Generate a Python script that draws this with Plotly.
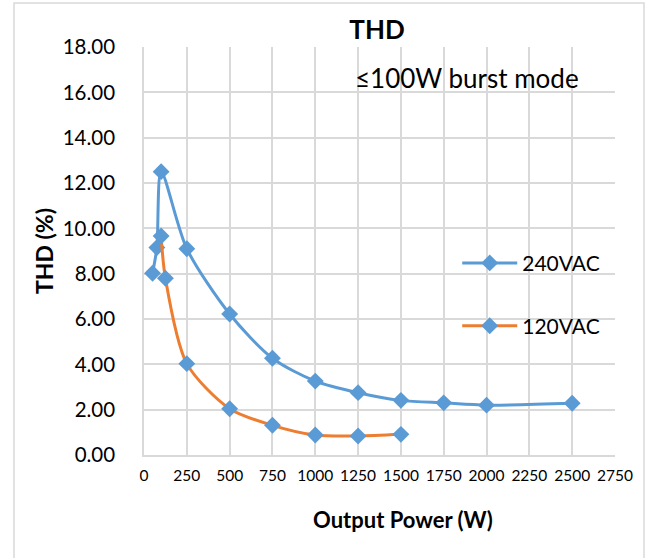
import plotly.graph_objects as go

# Output power (W) and THD (%) for each input voltage
power_240 = [50, 75, 100, 250, 500, 750, 1000, 1250, 1500, 1750, 2000, 2500]
thd_240 = [8.02, 9.15, 12.50, 9.10, 6.22, 4.27, 3.26, 2.75, 2.41, 2.30, 2.20, 2.28]

power_120 = [100, 125, 250, 500, 750, 1000, 1250, 1500]
thd_120 = [9.66, 7.80, 4.03, 2.04, 1.31, 0.88, 0.84, 0.91]

x_ticks = list(range(0, 2751, 250))
y_ticks = list(range(0, 19, 2))

BLUE = "#5B9BD5"
ORANGE = "#ED7D31"
GRID = "#D9D9D9"
FONT = "Lato, Carlito, Calibri, sans-serif"

fig = go.Figure()
fig.add_trace(go.Scatter(
    x=power_240, y=thd_240, name="240VAC", mode="lines+markers",
    line=dict(color=BLUE, width=3, shape="spline", smoothing=0.8),
    marker=dict(symbol="diamond", size=13, color=BLUE),
    legend="legend",
))
fig.add_trace(go.Scatter(
    x=power_120, y=thd_120, name="120VAC", mode="lines+markers",
    line=dict(color=ORANGE, width=3, shape="spline", smoothing=0.8),
    marker=dict(symbol="diamond", size=13, color=BLUE),
    legend="legend2",
))

legend_style = dict(
    font=dict(family=FONT, size=21, color="#000000"),
    bgcolor="rgba(0,0,0,0)", xanchor="left", yanchor="middle",
    itemwidth=55, visible=True,
)

fig.update_layout(
    width=655, height=558,
    margin=dict(l=144, r=40, t=47, b=103),
    paper_bgcolor="white", plot_bgcolor="white",
    font=dict(family=FONT, color="#000000"),
    showlegend=True,
    title=dict(text="<b>THD</b>", x=0.5756, xanchor="center", y=0.946,
               yanchor="middle", font=dict(family=FONT, size=26)),
    xaxis=dict(
        range=[0, 2750], tickvals=x_ticks, ticktext=[str(v) for v in x_ticks],
        showgrid=True, gridcolor=GRID, gridwidth=1.5,
        showline=True, linecolor=GRID, linewidth=1.5,
        zeroline=False, ticks="", ticklabelstandoff=6,
        tickfont=dict(family=FONT, size=15.5),
    ),
    yaxis=dict(
        range=[0, 18], tickvals=y_ticks, ticktext=[f"{v:.2f}" for v in y_ticks],
        showgrid=True, gridcolor=GRID, gridwidth=1.5,
        showline=True, linecolor=GRID, linewidth=1.5,
        zeroline=False, ticks="", ticklabelstandoff=23,
        tickfont=dict(family=FONT, size=20.5),
        title=dict(text="<b>THD (%)</b>", font=dict(family=FONT, size=23),
                   standoff=3),
    ),
    legend=dict(x=0.665, y=0.47, **legend_style),
    legend2=dict(x=0.665, y=0.316, **legend_style),
    annotations=[
        dict(
            text="≤100W burst mode", xref="paper", yref="paper",
            x=0.444, y=0.924, xanchor="left", yanchor="middle", showarrow=False,
            font=dict(family=FONT, size=26, color="#000000"),
        ),
        # x-axis title, placed as an annotation so it can sit off-centre
        dict(
            text="<b>Output Power (W)</b>", xref="paper", yref="paper",
            x=0.55, y=-0.157, xanchor="center", yanchor="middle", showarrow=False,
            font=dict(family=FONT, size=22, color="#000000"),
        ),
    ],
    shapes=[dict(
        type="rect", xref="paper", yref="paper",
        x0=-0.276, x1=1.0616, y0=-0.26, y1=1.108,
        line=dict(color=GRID, width=1.5), fillcolor="rgba(0,0,0,0)",
        layer="below",
    )],
)

fig.write_html("out.html")
